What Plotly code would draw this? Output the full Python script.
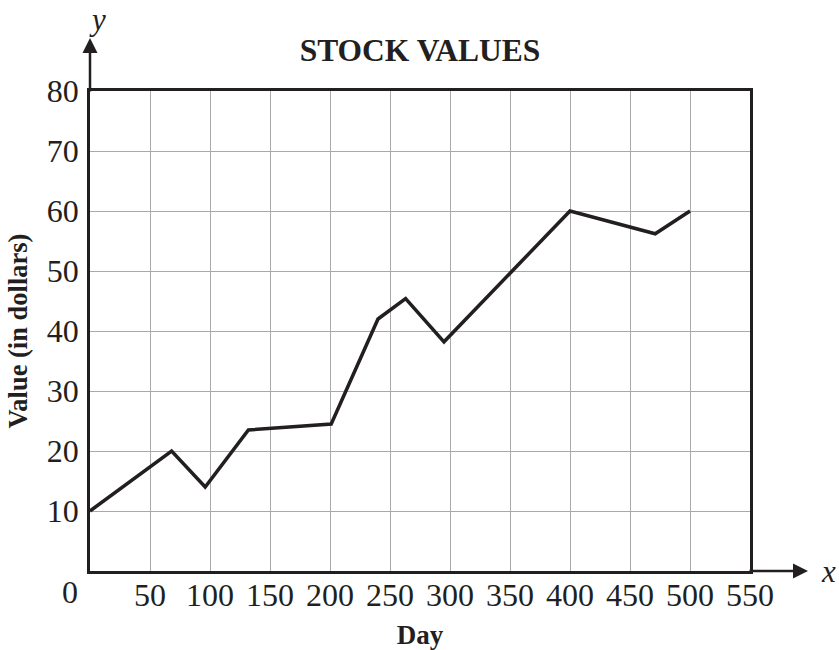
import plotly.graph_objects as go

days = [0, 68, 96, 132, 201, 240, 263, 295, 400, 471, 500]
values = [10, 20, 14, 23.5, 24.5, 42, 45.4, 38.2, 60, 56.2, 60]
x_ticks = [50, 100, 150, 200, 250, 300, 350, 400, 450, 500, 550]
y_ticks = [10, 20, 30, 40, 50, 60, 70, 80]

SERIF = "Liberation Serif, Times New Roman, serif"
INK = "#231f20"

fig = go.Figure()
fig.add_trace(go.Scatter(x=days, y=values, mode="lines",
                         line=dict(color=INK, width=3.5), cliponaxis=False,
                         hoverinfo="skip", showlegend=False))

fig.update_layout(
    width=839, height=650,
    margin=dict(l=90, r=89, t=91, b=79, autoexpand=False),
    paper_bgcolor="white", plot_bgcolor="white",
    title=dict(text="<b>STOCK VALUES</b>", x=0.5, xref="paper", xanchor="center",
               y=1 - 50 / 650, yanchor="middle", yref="container",
               font=dict(family=SERIF, size=31.5, color=INK)),
    xaxis=dict(range=[0, 550], tickvals=x_ticks, ticktext=[str(v) for v in x_ticks],
               showgrid=True, gridcolor="#a7a9ac", gridwidth=1.2,
               showline=True, mirror=True, linecolor=INK, linewidth=2.5,
               ticks="", zeroline=False, fixedrange=True, automargin=False,
               ticklabelstandoff=-6,
               tickfont=dict(family=SERIF, size=32, color=INK),
               title=dict(text="<b>Day</b>", font=dict(family=SERIF, size=27, color=INK),
                          standoff=14)),
    yaxis=dict(range=[0, 80], tickvals=y_ticks, ticktext=[str(v) for v in y_ticks],
               showgrid=True, gridcolor="#a7a9ac", gridwidth=1.2,
               showline=True, mirror=True, linecolor=INK, linewidth=2.5,
               ticks="", zeroline=False, fixedrange=True, automargin=False,
               ticklabelstandoff=2,
               tickfont=dict(family=SERIF, size=32, color=INK),
               title=dict(text="<b>Value (in dollars)</b>",
                          font=dict(family=SERIF, size=26.5, color=INK), standoff=12)),
)

# origin label
fig.add_annotation(x=0, y=0, xref="x", yref="y", text="0", showarrow=False,
                   xanchor="right", yanchor="top", xshift=-10, yshift=-1,
                   font=dict(family=SERIF, size=32, color=INK))
# axis arrows
fig.add_annotation(x=(808 - 90) / 660, y=0, xref="paper", yref="y", ax=-60, ay=0,
                   axref="pixel", ayref="pixel", text="", showarrow=True,
                   arrowhead=2, arrowsize=1.2, arrowwidth=2.5, arrowcolor=INK)
fig.add_annotation(x=0, y=(571 - 38) / 480, xref="x", yref="paper", ax=0, ay=55,
                   text="", showarrow=True,
                   arrowhead=2, arrowsize=1.2, arrowwidth=2.5, arrowcolor=INK)
fig.add_annotation(x=(828 - 90) / 660, y=0, xref="paper", yref="y", text="<i>x</i>",
                   showarrow=False, xanchor="center", yanchor="middle",
                   font=dict(family=SERIF, size=31, color=INK))
fig.add_annotation(x=(97 - 90) / 660, y=(571 - 20) / 480, xref="paper", yref="paper",
                   text="<i>y</i>", showarrow=False, xanchor="center", yanchor="middle",
                   font=dict(family=SERIF, size=31, color=INK))

fig.write_html("out.html", config={"displayModeBar": False},
               post_script="document.body.style.margin='0px';document.body.style.overflow='hidden';")
